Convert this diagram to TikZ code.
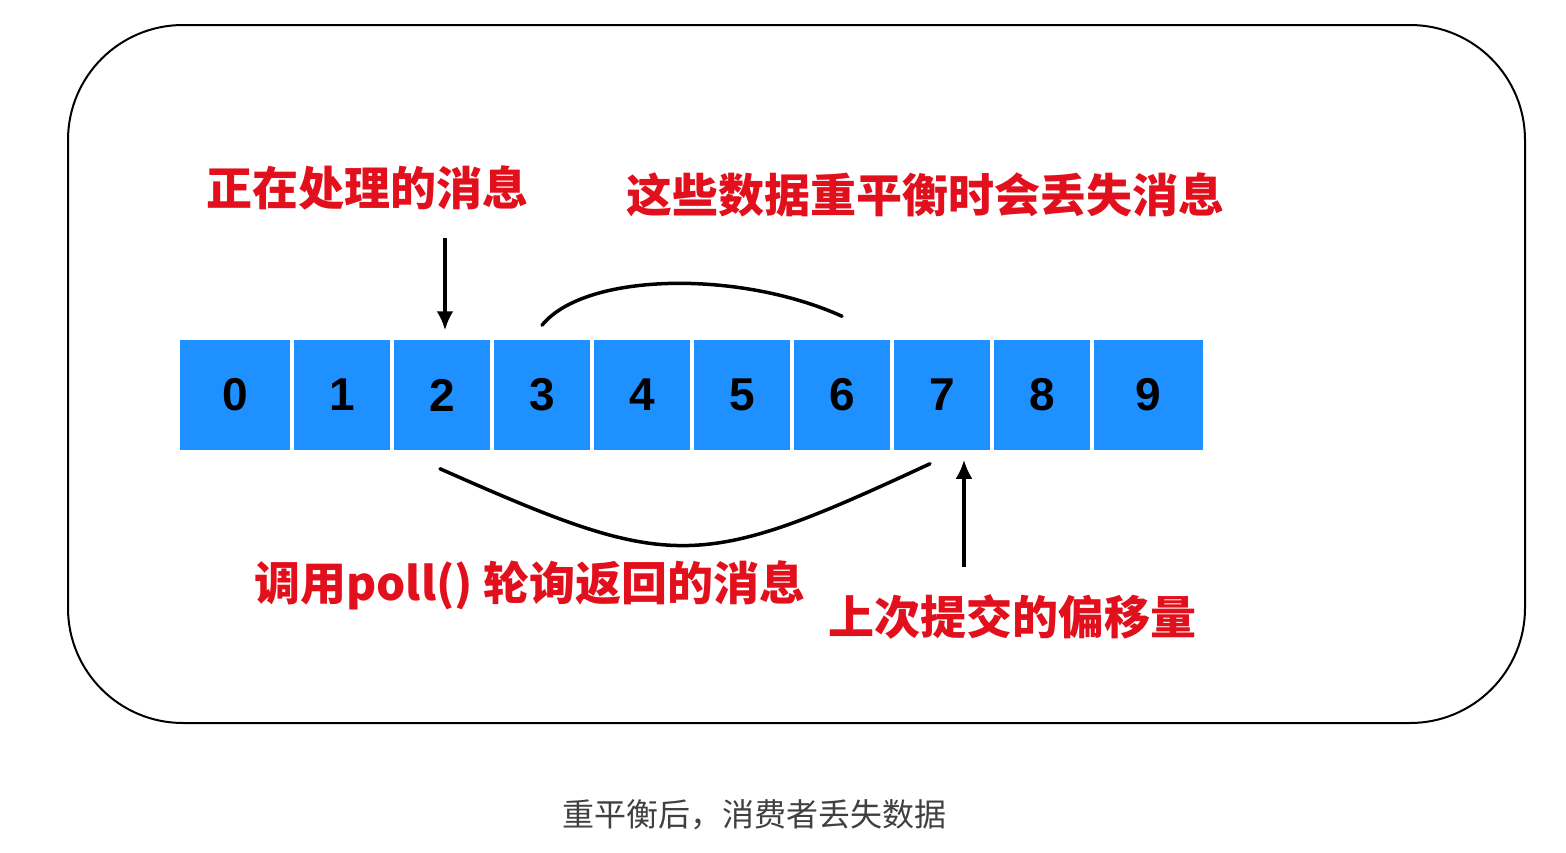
\documentclass[tikz,border=0pt]{standalone}
\usepackage{fontspec}
\setmainfont{Liberation Sans}
\newfontfamily\cjk{Noto Sans CJK SC}
\usetikzlibrary{arrows.meta}
\definecolor{cellblue}{RGB}{30,144,255}
\definecolor{notered}{RGB}{226,16,28}
\definecolor{capgray}{RGB}{64,64,64}

\begin{document}
\begin{tikzpicture}
[x=1pt,y=-1pt,line width=3.5pt,%
  cell/.style={fill=cellblue,minimum width=96pt,minimum height=110pt,inner sep=0pt,%
    font=\fontsize{46}{54}\selectfont\bfseries},%
  note/.style={text=notered,inner sep=0pt,font=\cjk\bfseries\fontsize{46}{55}\selectfont},%
  arr/.style={-{Latex[length=19pt,width=17pt]}}]
\useasboundingbox (0,0) rectangle (1566,852);
\draw[line width=2pt,rounded corners=115pt] (68,25) rectangle (1525,723);
\node[cell,minimum width=110pt] (c0) at (235,395) {0};
\foreach \i in {1,...,8}
  \node[cell] (c\i) at (242+100*\i,395) {\i};
\node[cell,minimum width=109pt] (c9) at (1148.5,395) {9};
\node[note] (busy) at (367,188) {正在处理的消息};
\node[note] (lost) at (925,195) {这些数据重平衡时会丢失消息};
\node[note] (polled) at (530,585) {调用poll() 轮询返回的消息};
\node[note] (commit) at (1012,617) {上次提交的偏移量};
\node[text=capgray,inner sep=0pt,font=\cjk\fontsize{32}{38}\selectfont] (cap) at (754,815)
  {重平衡后，消费者丢失数据};
\coordinate (p1) at (445,238);
\coordinate (p2) at (964,567);
\draw[arr] (p1) -- ([yshift=8pt]p1 |- c2.north);
\draw[arr] (p2) -- ([yshift=-8pt]p2 |- c7.south);
\draw[line cap=round] ([yshift=13pt]c3.north) .. controls (585,272) and (740,270)
  .. ([yshift=22pt]c6.north);
\draw[line cap=round] ([xshift=-2pt,yshift=-17pt]c2.south) .. controls (673,572) and (697,572)
  .. ([xshift=-12pt,yshift=-12pt]c7.south);
\end{tikzpicture}
\end{document}
